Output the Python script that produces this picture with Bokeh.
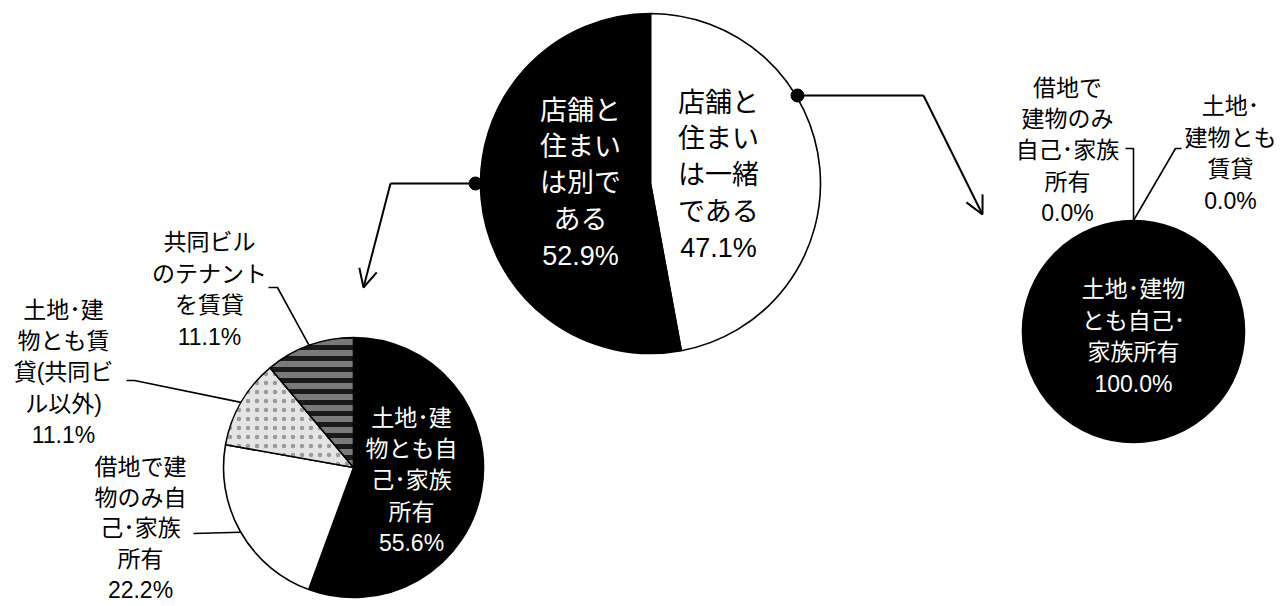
import numpy as np
from bokeh.plotting import figure
from bokeh.models import Range1d, Arrow, OpenHead
from bokeh.core.properties import value
from bokeh.embed import file_html
from bokeh.resources import INLINE

# ---------------- data ----------------
main_labels = ["店舗と\n住まい\nは一緒\nである", "店舗と\n住まい\nは別で\nある"]
main_values = [47.1, 52.9]

sep_labels = ["土地･建\n物とも自\n己･家族\n所有", "借地で建\n物のみ自\n己･家族\n所有",
              "土地･建\n物とも賃\n貸(共同ビ\nル以外)", "共同ビル\nのテナント\nを賃貸"]
sep_values = [55.6, 22.2, 11.1, 11.1]

same_labels = ["土地･建物\nとも自己･\n家族所有", "借地で\n建物のみ\n自己･家族\n所有", "土地･\n建物とも\n賃貸"]
same_values = [100.0, 0.0, 0.0]

# ---------------- layout ----------------
FONT = value("'Liberation Sans', 'Noto Sans CJK JP', sans-serif")
W, H = 1286, 606
p = figure(width=W, height=H, output_backend="svg", toolbar_location=None,
           x_range=Range1d(0, W), y_range=Range1d(-H, 0),
           x_axis_location=None, y_axis_location=None, min_border=0)
p.grid.visible = False
p.outline_line_color = None
p.background_fill_color = "white"


def draw_pie(cx, cy, r, vals, styles):
    frac = np.array(vals, dtype=float) / float(sum(vals))
    cum = np.concatenate([[0.0], np.cumsum(frac)])
    for i, f in enumerate(frac):
        if f <= 0:
            continue
        st = styles[i]
        kw = dict(fill_color=st.get("fill", "white"), line_color="black", line_width=1.6,
                  hatch_pattern=st.get("hatch"), hatch_color=st.get("hcolor", "black"),
                  hatch_scale=st.get("hscale", 8), hatch_weight=st.get("hweight", 1))
        if f >= 0.9999:
            p.circle(x=[cx], y=[-cy], radius=r, **kw)
            continue
        start = np.pi / 2 - cum[i + 1] * 2 * np.pi
        end = np.pi / 2 - cum[i] * 2 * np.pi
        p.wedge(x=[cx], y=[-cy], radius=r, start_angle=[start], end_angle=[end],
                direction="anticlock", **kw)
    return cum


def edge_point(cx, cy, r, frac):
    a = frac * 2 * np.pi
    return cx + r * np.sin(a), cy - r * np.cos(a)


def label(x, y, txt, size, color="black", lh=1.21):
    p.text(x=[x], y=[-y], text=[txt], text_font=FONT, text_font_size=size,
           text_color=color, text_align="center", text_baseline="middle",
           text_line_height=lh)


# ---- main pie ----
MC = (650, 183, 170)
draw_pie(MC[0], MC[1], MC[2], main_values,
         [{"fill": "white"}, {"fill": "black"}])
main_pos = [(718, 175), (580, 183)]
main_col = ["black", "white"]
for i in range(2):
    label(main_pos[i][0], main_pos[i][1],
          f"{main_labels[i]}\n{main_values[i]:.1f}%", "27px", main_col[i])

# ---- bottom-left pie (住まいは別) ----
SC = (353, 467, 130)
cum_s = draw_pie(SC[0], SC[1], SC[2], sep_values, [
    {"fill": "black"},
    {"fill": "white"},
    {"fill": "#e4e4e4", "hatch": "dot", "hcolor": "#9a9a9a", "hscale": 9, "hweight": 3},
    {"fill": "#7a7a7a", "hatch": "horizontal_line", "hcolor": "#1a1a1a", "hscale": 11, "hweight": 5},
])
sep_pos = [(411, 480), (140, 528), (63, 372), (209, 289)]
sep_col = ["white", "black", "black", "black"]
sep_lh = [1.21, 1.18, 1.21, 1.21]
for i in range(4):
    label(sep_pos[i][0], sep_pos[i][1],
          f"{sep_labels[i]}\n{sep_values[i]:.1f}%", "23px", sep_col[i], sep_lh[i])

# leader lines for bottom-left pie
mid = (cum_s[:-1] + cum_s[1:]) / 2
ex, ey = edge_point(SC[0], SC[1], SC[2], mid[1])
p.line([193, ex], [-533, -ey], line_color="black", line_width=1.6)
ex, ey = edge_point(SC[0], SC[1], SC[2], mid[2])
p.line([126, 134, ex], [-380, -380, -ey], line_color="black", line_width=1.6)
ex, ey = edge_point(SC[0], SC[1], SC[2], mid[3])
p.line([268, 277, ex], [-287, -287, -ey], line_color="black", line_width=1.6)

# ---- right pie (住まいは一緒) ----
RC = (1133, 331, 111)
cum_r = draw_pie(RC[0], RC[1], RC[2], same_values,
                 [{"fill": "black"}, {"fill": "white"}, {"fill": "white"}])
same_pos = [(1133, 336), (1067, 150), (1230, 153)]
same_col = ["white", "black", "black"]
for i in range(3):
    label(same_pos[i][0], same_pos[i][1],
          f"{same_labels[i]}\n{same_values[i]:.1f}%", "23px", same_col[i])
mid_r = (cum_r[:-1] + cum_r[1:]) / 2
ex, ey = edge_point(RC[0], RC[1], RC[2], mid_r[1])
p.line([1125, ex, ex], [-148, -148, -ey], line_color="black", line_width=1.6)
ex, ey = edge_point(RC[0], RC[1], RC[2], mid_r[2])
p.line([1181, 1175, ex], [-148, -148, -ey], line_color="black", line_width=1.6)

# ---- connectors with arrows ----
p.scatter([475, 797], [-183, -95], size=13, color="black")
p.line([475, 390], [-183, -183], line_color="black", line_width=2)
p.line([797, 923], [-95, -95], line_color="black", line_width=2)
p.add_layout(Arrow(end=OpenHead(size=18, line_width=2, line_color="black"),
                   x_start=390, y_start=-183, x_end=363, y_end=-287,
                   line_width=2, line_color="black"))
p.add_layout(Arrow(end=OpenHead(size=18, line_width=2, line_color="black"),
                   x_start=923, y_start=-95, x_end=982, y_end=-214,
                   line_width=2, line_color="black"))

open("out.html", "w").write(file_html(p, INLINE))
